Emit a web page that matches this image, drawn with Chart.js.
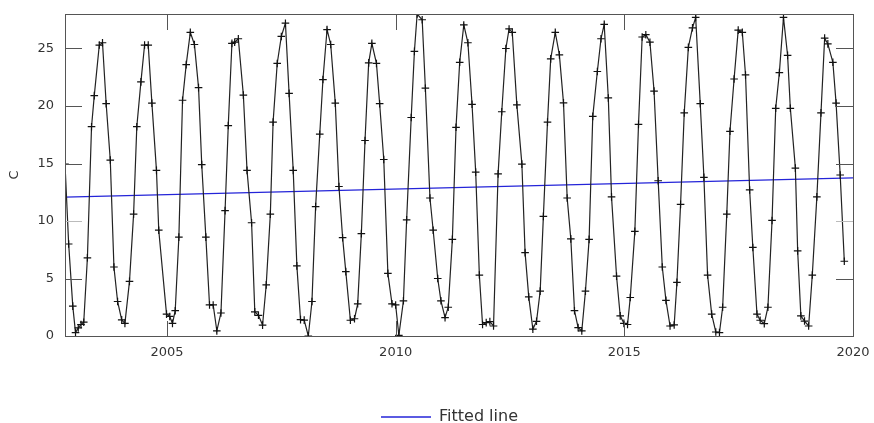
<!DOCTYPE html>
<html>
<head>
<meta charset="utf-8">
<script src="https://cdn.jsdelivr.net/npm/chart.js@4.4.1/dist/chart.umd.min.js"></script>
<style>
  html, body { margin: 0; padding: 0; background: #fff; }
  #wrap { width: 874px; height: 423px; }
</style>
</head>
<body>
<div id="wrap"><canvas id="tempChart" width="874" height="423"></canvas></div>
<script>
// Monthly water temperature samples (decimal year, degrees C)
const years = [
    2002.77, 2002.85, 2002.94, 2003.00, 2003.06, 2003.12, 2003.18, 2003.26, 2003.35, 2003.41,
    2003.52, 2003.59, 2003.67, 2003.76, 2003.84, 2003.92, 2004.01, 2004.08, 2004.18, 2004.27,
    2004.34, 2004.43, 2004.51, 2004.59, 2004.67, 2004.77, 2004.82, 2004.99, 2005.06, 2005.12,
    2005.18, 2005.26, 2005.34, 2005.42, 2005.51, 2005.60, 2005.69, 2005.76, 2005.85, 2005.93,
    2006.01, 2006.09, 2006.18, 2006.27, 2006.34, 2006.42, 2006.48, 2006.56, 2006.67, 2006.75,
    2006.85, 2006.92, 2007.00, 2007.09, 2007.17, 2007.26, 2007.32, 2007.41, 2007.50, 2007.59,
    2007.67, 2007.76, 2007.84, 2007.92, 2008.00, 2008.09, 2008.17, 2008.25, 2008.34, 2008.41,
    2008.50, 2008.58, 2008.68, 2008.76, 2008.84, 2008.91, 2009.01, 2009.10, 2009.17, 2009.25,
    2009.33, 2009.41, 2009.48, 2009.58, 2009.65, 2009.74, 2009.83, 2009.92, 2010.00, 2010.07,
    2010.17, 2010.24, 2010.34, 2010.41, 2010.47, 2010.58, 2010.65, 2010.75, 2010.82, 2010.92,
    2010.99, 2011.08, 2011.15, 2011.24, 2011.32, 2011.40, 2011.49, 2011.58, 2011.67, 2011.75,
    2011.83, 2011.90, 2011.98, 2012.06, 2012.14, 2012.24, 2012.32, 2012.41, 2012.48, 2012.55,
    2012.65, 2012.76, 2012.83, 2012.91, 2013.00, 2013.08, 2013.16, 2013.23, 2013.32, 2013.39,
    2013.49, 2013.58, 2013.67, 2013.75, 2013.83, 2013.91, 2013.99, 2014.07, 2014.15, 2014.23,
    2014.31, 2014.41, 2014.49, 2014.56, 2014.65, 2014.72, 2014.83, 2014.91, 2014.99, 2015.07,
    2015.13, 2015.23, 2015.31, 2015.39, 2015.47, 2015.56, 2015.65, 2015.74, 2015.83, 2015.91,
    2016.00, 2016.09, 2016.15, 2016.23, 2016.31, 2016.40, 2016.49, 2016.56, 2016.66, 2016.74,
    2016.82, 2016.91, 2017.00, 2017.08, 2017.15, 2017.24, 2017.31, 2017.40, 2017.49, 2017.58,
    2017.65, 2017.74, 2017.81, 2017.90, 2017.97, 2018.06, 2018.14, 2018.23, 2018.31, 2018.39,
    2018.48, 2018.57, 2018.63, 2018.74, 2018.79, 2018.86, 2018.94, 2019.03, 2019.11, 2019.21,
    2019.30, 2019.38, 2019.45, 2019.56, 2019.63, 2019.72, 2019.81
];
const temps = [
    14.95, 8.0, 2.6, 0.3, 0.7, 1.0, 1.2, 6.8, 18.2, 20.9,
    25.3, 25.5, 20.2, 15.3, 6.0, 3.0, 1.4, 1.1, 4.75, 10.6,
    18.2, 22.1, 25.3, 25.3, 20.25, 14.4, 9.2, 1.9, 1.7, 1.1,
    2.2, 8.6, 20.5, 23.6, 26.4, 25.35, 21.6, 14.9, 8.6, 2.7,
    2.7, 0.45, 2.0, 10.9, 18.3, 25.45, 25.55, 25.85, 20.95, 14.4,
    9.85, 2.1, 1.8, 0.95, 4.45, 10.6, 18.6, 23.7, 26.05, 27.2,
    21.1, 14.4, 6.1, 1.42, 1.38, 0.0, 3.0, 11.25, 17.55, 22.3,
    26.65, 25.35, 20.25, 13.0, 8.55, 5.6, 1.37, 1.5, 2.8, 8.9,
    17.0, 23.75, 25.45, 23.7, 20.2, 15.35, 5.45, 2.8, 2.7, 0.05,
    3.06, 10.1, 19.0, 24.75, 28.0, 27.5, 21.55, 12.0, 9.2, 5.0,
    3.06, 1.6, 2.5, 8.4, 18.15, 23.8, 27.05, 25.5, 20.15, 14.25,
    5.3, 1.0, 1.16, 1.25, 0.87, 14.1, 19.5, 25.0, 26.7, 26.4,
    20.1, 14.95, 7.25, 3.4, 0.6, 1.28, 3.9, 10.4, 18.6, 24.1,
    26.4, 24.45, 20.27, 12.0, 8.45, 2.2, 0.73, 0.44, 3.9, 8.4,
    19.1, 23.0, 25.85, 27.1, 20.7, 12.1, 5.2, 1.75, 1.1, 1.0,
    3.35, 9.1, 18.4, 26.0, 26.2, 25.55, 21.3, 13.5, 6.0, 3.1,
    0.87, 0.96, 4.66, 11.45, 19.4, 25.1, 26.8, 27.7, 20.2, 13.8,
    5.3, 1.9, 0.35, 0.3, 2.5, 10.6, 17.8, 22.35, 26.6, 26.4,
    22.7, 12.7, 7.7, 1.9, 1.37, 1.07, 2.5, 10.05, 19.8, 22.9,
    27.7, 24.4, 19.8, 14.6, 7.4, 1.75, 1.3, 0.87, 5.3, 12.1,
    19.4, 25.9, 25.4, 23.8, 20.25, 14.0, 6.5
];

// Linear trend through the series
const fitYears = [2002.77, 2020];
const fitTemps = [12.08, 13.75];

// Axis ticks
const xTicks = [2005, 2010, 2015, 2020];
const yTicks = [0, 5, 10, 15, 20, 25];

const TEXT = '#333';
const FRAME = '#555';

// Draws the plot frame and the inward-pointing ticks on all four sides;
// also nudges the legend a little to the right of the canvas centre
const frameTicks = {
    id: 'frameTicks',
    afterLayout(chart) {
        chart.legend.left += 21;
        chart.legend.right += 21;
    },
    afterDatasetsDraw(chart) {
        const { ctx, chartArea: a, scales: { x, y } } = chart;
        ctx.save();
        ctx.lineWidth = 1;
        xTicks.forEach(v => {
            const px = Math.round(x.getPixelForValue(v)) + 0.5;
            ctx.strokeStyle = FRAME;
            ctx.beginPath();
            ctx.moveTo(px, a.bottom); ctx.lineTo(px, a.bottom - 15);
            ctx.moveTo(px, a.top); ctx.lineTo(px, a.top + 16);
            ctx.stroke();
        });
        yTicks.forEach(v => {
            const py = Math.round(y.getPixelForValue(v)) + 0.5;
            ctx.strokeStyle = v === 10 ? '#bbb' : FRAME;
            ctx.beginPath();
            ctx.moveTo(a.left, py); ctx.lineTo(a.left + 17, py);
            ctx.moveTo(a.right, py); ctx.lineTo(a.right - 17, py);
            ctx.stroke();
        });
        ctx.strokeStyle = FRAME;
        ctx.strokeRect(Math.round(a.left) + 0.5, Math.round(a.top) + 0.5,
                       Math.round(a.width), Math.round(a.height));
        ctx.restore();
    }
};

const ctx = document.getElementById('tempChart').getContext('2d');
new Chart(ctx, {
    type: 'line',
    data: {
        datasets: [{
            label: 'Temperature',
            data: years.map((yr, i) => ({ x: yr, y: temps[i] })),
            borderColor: '#222',
            borderWidth: 1.2,
            pointStyle: 'cross',
            pointRadius: 3.8,
            pointBorderColor: '#111',
            pointBorderWidth: 1.2,
            tension: 0,
            fill: false
        }, {
            label: 'Fitted line',
            data: fitYears.map((yr, i) => ({ x: yr, y: fitTemps[i] })),
            borderColor: '#2424d8',
            borderWidth: 1.4,
            pointRadius: 0,
            tension: 0,
            fill: false
        }]
    },
    options: {
        responsive: false,
        animation: false,
        layout: { padding: { left: 4, right: 21, top: 14, bottom: -12 } },
        font: { family: 'DejaVu Sans' },
        scales: {
            x: {
                type: 'linear',
                min: fitYears[0],
                max: 2020,
                grid: { display: false, drawTicks: false },
                border: { display: false },
                afterBuildTicks: s => { s.ticks = xTicks.map(v => ({ value: v })); },
                afterFit: s => {
                    s.height = 73;
                    s.paddingLeft = 0;
                    s.paddingRight = 0;
                },
                ticks: {
                    padding: 9,
                    color: TEXT,
                    font: { family: 'DejaVu Sans', size: 13 },
                    maxRotation: 0,
                    callback: v => String(v)
                }
            },
            y: {
                min: 0,
                max: 28,
                grid: { display: false, drawTicks: false },
                border: { display: false },
                afterBuildTicks: s => { s.ticks = yTicks.map(v => ({ value: v })); },
                afterFit: s => {
                    s.width = 61;
                    s.paddingTop = 0;
                    s.paddingBottom = 0;
                },
                title: {
                    display: true,
                    text: 'C',
                    color: TEXT,
                    font: { family: 'DejaVu Sans', size: 13 },
                    padding: { top: 3, bottom: 0 }
                },
                ticks: {
                    padding: 11,
                    color: TEXT,
                    font: { family: 'DejaVu Sans', size: 13 }
                }
            }
        },
        plugins: {
            legend: {
                position: 'bottom',
                labels: {
                    filter: item => item.text === 'Fitted line',
                    usePointStyle: true,
                    pointStyle: 'line',
                    pointStyleWidth: 50,
                    boxHeight: 16,
                    padding: 0,
                    color: TEXT,
                    font: { family: 'DejaVu Sans', size: 16 }
                }
            },
            tooltip: { enabled: false }
        }
    },
    plugins: [frameTicks]
});
</script>
</body>
</html>
